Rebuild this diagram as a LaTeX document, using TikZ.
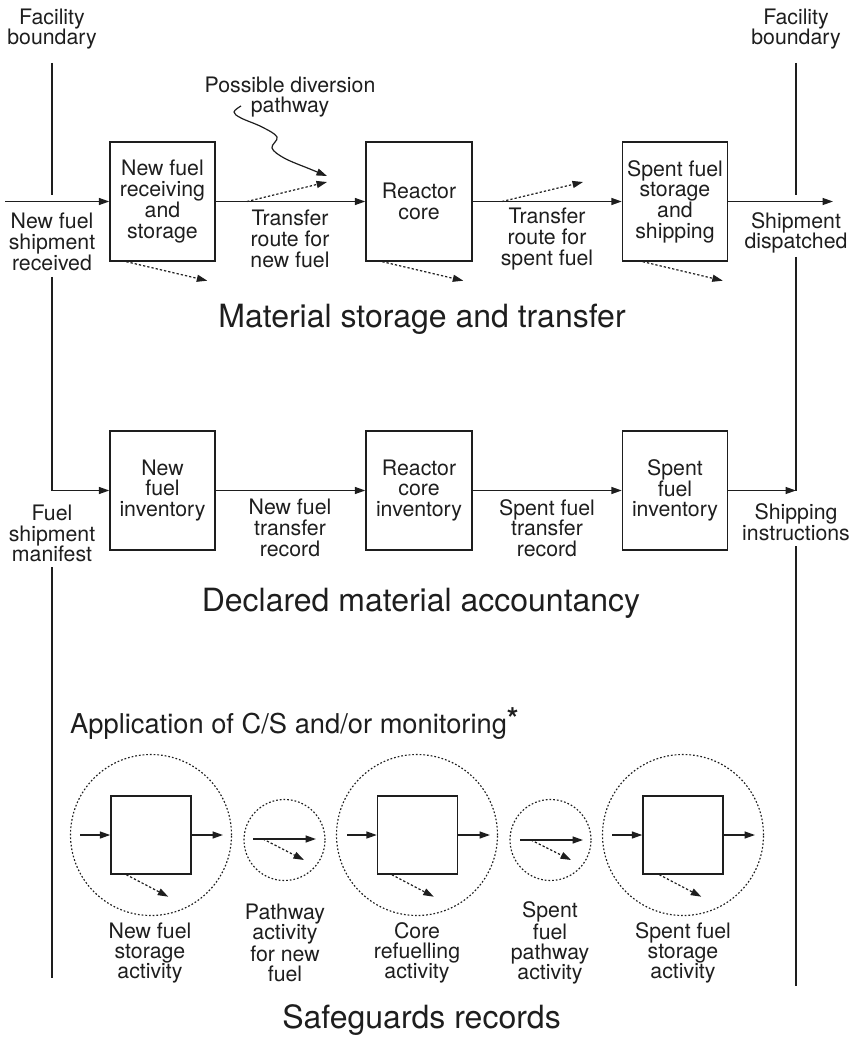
\documentclass[tikz,border=0pt]{standalone}
\usepackage{fontspec}
\setmainfont{TeX Gyre Heros}
\usetikzlibrary{arrows.meta,calc}
\definecolor{ink}{RGB}{30,30,30}
\tikzset{
  lbl/.style={font=\fontsize{21.3}{20.7}\selectfont, align=center, inner sep=0pt, text=ink},
  ttl/.style={font=\fontsize{32}{36}\selectfont, inner sep=0pt, text=ink, anchor=base},
  stage/.style={draw=ink, line width=1.4pt, minimum width=105pt, minimum height=119pt, lbl},
  sq/.style={draw=ink, line width=1.4pt, minimum width=80pt, minimum height=78pt, inner sep=0pt},
  ring/.style={circle, draw=ink, line width=1.15pt, dash pattern=on 1.7pt off 2pt, inner sep=0pt},
  arr/.style={draw=ink, line width=1.4pt, -{Triangle[length=10.5pt,width=7pt]}},
  dotarr/.style={draw=ink, line width=1.2pt, dash pattern=on 2.3pt off 2pt, -{Triangle[length=10.5pt,width=7pt]}},
  bline/.style={draw=ink, line width=1.4pt},
}
\begin{document}
\begin{tikzpicture}[x=1pt,y=-1pt]
\useasboundingbox (0,0) rectangle (854,1040);

% ---------- Row 1: material storage and transfer
\node[stage] (b1) at (162.5,201.5) {New fuel\\receiving\\and\\storage};
\node[stage, minimum width=106pt] (b2) at (419,201.5) {Reactor\\core};
\node[stage] (b3) at (675,201.5) {Spent fuel\\storage\\and\\shipping};

\coordinate (in1) at (5,201.5);
\coordinate (out1) at (833,201.5);
\draw[arr] (in1) -- (b1.west);
\draw[arr] (b1.east) -- (b2.west);
\draw[arr] (b2.east) -- (b3.west);
\draw[arr] (b3.east) -- (out1);

% diversion pathways (dotted)
\coordinate (d1s) at (247,201.5); \coordinate (d1e) at (327,182);
\coordinate (d2s) at (502,201.5); \coordinate (d2e) at (583,182);
\draw[dotarr] (d1s) -- (d1e);
\draw[dotarr] (d2s) -- (d2e);
\draw[dotarr] ($(b1.south west)+(17,0)$) -- ++(81,19);
\draw[dotarr] ($(b2.south west)+(17,0)$) -- ++(81,19);
\draw[dotarr] ($(b3.south west)+(21,0)$) -- ++(80,19);

\node[lbl] (l1) at (52,242) {New fuel\\shipment\\received};
\node[lbl] (l2) at (290,239) {Transfer\\route for\\new fuel};
\node[lbl] (l3) at (547,239) {Transfer\\route for\\spent fuel};
\node[lbl] (l4) at (796,233) {Shipment\\dispatched};

\node[lbl] (fb1) at (52,29) {Facility\\boundary};
\node[lbl] (fb2) at (796,29) {Facility\\boundary};

\node[lbl] (pdp) at (290,97) {Possible diversion\\pathway};
\coordinate (w0) at (241,106);
\coordinate (wend) at (327,176);
\draw[arr, line width=1.2pt] plot[smooth, tension=0.6] coordinates {(241,106) (234,112) (241,118) (262,127) (277,137) (272,148) (284,158) (305,167)} -- (wend);

\node[ttl] (t1) at (422,327) {Material storage and transfer};

% ---------- Row 2: declared material accountancy
\node[stage] (r1) at (162.5,490.5) {New\\fuel\\inventory};
\node[stage, minimum width=106pt] (r2) at (419,490.5) {Reactor\\core\\inventory};
\node[stage] (r3) at (675,490.5) {Spent\\fuel\\inventory};

\draw[arr] (r1.east) -- (r2.west);
\draw[arr] (r2.east) -- (r3.west);

\node[lbl] (m1) at (52,533.5) {Fuel\\shipment\\manifest};
\node[lbl] (m2) at (290,528) {New fuel\\transfer\\record};
\node[lbl] (m3) at (547,528) {Spent fuel\\transfer\\record};
\node[lbl] (m4) at (796,522.5) {Shipping\\instructions};

\node[ttl] (t2) at (421,611) {Declared material accountancy};

% ---------- Facility boundaries
\coordinate (L0) at (52,63);  \coordinate (L1) at (52,195);
\coordinate (L2) at (52,277); \coordinate (L3) at (52,567); \coordinate (L4) at (52,978);
\coordinate (R0) at (796,63); \coordinate (R1) at (796,195);
\coordinate (R2) at (796,257); \coordinate (R3) at (796,490.5);
\coordinate (R4) at (796,546); \coordinate (R5) at (796,986);
\draw[bline] (L0) -- (L1);
\draw[arr] (L2) |- (r1.west);
\draw[bline] (L3) -- (L4);
\draw[bline] (R0) -- (R1);
\draw[bline] (R2) -- (R3);
\draw[arr] (r3.east) -- (R3);
\draw[bline] (R4) -- (R5);

% ---------- Safeguards records
\node[font=\fontsize{27.3}{30}\selectfont, text=ink, inner sep=0pt, anchor=base west] (app) at (70,733) {Application of C/S and/or monitoring\raisebox{4pt}{\fontsize{30}{30}\selectfont\bfseries *}};

% circle 1
\node[ring, minimum size=161pt] (c1) at (151,835) {};
\node[sq] (s1) at (151,835) {};
\coordinate (c1i) at (80,835); \coordinate (c1o) at (223,835);
\draw[arr] (c1i) -- (s1.west);
\draw[arr] (s1.east) -- (c1o);
\draw[dotarr] ($(s1.south west)+(16,0)$) -- ++(42,22);

% circle 2
\node[ring, minimum size=81pt] (c2) at (284.5,840) {};
\coordinate (c2a) at (253,839); \coordinate (c2b) at (316,839);
\coordinate (c2c) at (263,839); \coordinate (c2d) at (304,860);
\draw[arr] (c2a) -- (c2b);
\draw[dotarr] (c2c) -- (c2d);

% circle 3
\node[ring, minimum size=161pt] (c3) at (417,835) {};
\node[sq] (s3) at (417.5,835) {};
\coordinate (c3i) at (347,835); \coordinate (c3o) at (490,835);
\draw[arr] (c3i) -- (s3.west);
\draw[arr] (s3.east) -- (c3o);
\draw[dotarr] ($(s3.south west)+(15,0)$) -- ++(42,22);

% circle 4
\node[ring, minimum size=81pt] (c4) at (550.5,840) {};
\coordinate (c4a) at (520,840); \coordinate (c4b) at (583,840);
\coordinate (c4c) at (531,840); \coordinate (c4d) at (571,860);
\draw[arr] (c4a) -- (c4b);
\draw[dotarr] (c4c) -- (c4d);

% circle 5
\node[ring, minimum size=161pt] (c5) at (683,835) {};
\node[sq] (s5) at (683,835) {};
\coordinate (c5i) at (612,835); \coordinate (c5o) at (755,835);
\draw[arr] (c5i) -- (s5.west);
\draw[arr] (s5.east) -- (c5o);
\draw[dotarr] ($(s5.south west)+(17,0)$) -- ++(42,22);

% labels
\tikzset{slbl/.style={lbl, font=\fontsize{21.3}{20.2}\selectfont}}
\node[slbl] (a1) at (150,953) {New fuel\\storage\\activity};
\node[slbl] (a2) at (285,943) {Pathway\\activity\\for new\\fuel};
\node[slbl] (a3) at (417,953) {Core\\refuelling\\activity};
\node[slbl] (a4) at (550,943) {Spent\\fuel\\pathway\\activity};
\node[slbl] (a5) at (683,953) {Spent fuel\\storage\\activity};

\node[ttl] (t3) at (421.5,1028) {Safeguards records};
\end{tikzpicture}
\end{document}
